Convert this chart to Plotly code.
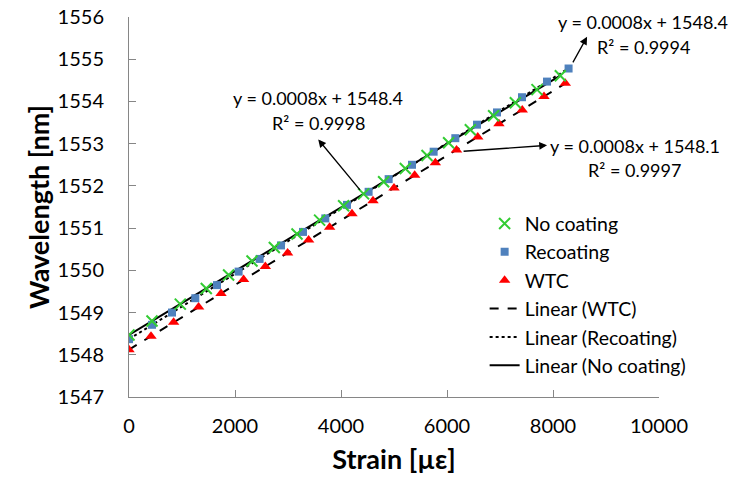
import numpy as np
import plotly.graph_objects as go

# ---- data ----
strain_nc = [0, 434, 968, 1458, 1879, 2321, 2742, 3170, 3596, 4049, 4426, 4804, 5213,
             5623, 6030, 6440, 6879, 7289, 7698, 8138]
wl_nc = [1548.47, 1548.80, 1549.20, 1549.57, 1549.89, 1550.22, 1550.54, 1550.86, 1551.19,
         1551.53, 1551.81, 1552.10, 1552.41, 1552.72, 1553.02, 1553.33, 1553.66, 1553.97,
         1554.28, 1554.61]

strain_rc = [0, 434, 811, 1251, 1660, 2068, 2464, 2868, 3283, 3704, 4113, 4521, 4899, 5340,
             5748, 6157, 6566, 6943, 7415, 7887, 8294]
wl_rc = [1548.37, 1548.71, 1549.00, 1549.34, 1549.65, 1549.97, 1550.27, 1550.59, 1550.91,
         1551.23, 1551.55, 1551.86, 1552.16, 1552.50, 1552.81, 1553.13, 1553.45, 1553.74,
         1554.10, 1554.47, 1554.78]

strain_wtc = [0, 415, 842, 1313, 1736, 2162, 2572, 2992, 3389, 3785, 4207, 4604, 5000, 5390,
              5780, 6180, 6580, 6980, 7420, 7830, 8232]
wl_wtc = [1548.12, 1548.44, 1548.77, 1549.13, 1549.45, 1549.78, 1550.09, 1550.41, 1550.72,
          1551.02, 1551.34, 1551.65, 1551.95, 1552.25, 1552.55, 1552.85, 1553.16, 1553.47,
          1553.80, 1554.12, 1554.43]

x_ticks = [0, 2000, 4000, 6000, 8000, 10000]
x_ticktext = ["0", "2000", "4000", "6000", "8000", "10000"]

eq_lines = ["y = 0.0008x + 1548.4", "y = 0.0008x + 1548.4", "y = 0.0008x + 1548.1"]
r2_lines = ["R² = 0.9998", "R² = 0.9994", "R² = 0.9997"]

FONT = "Lato, 'Open Sans', sans-serif"


def fit_line(xs, ys):
    p = np.polyfit(xs, ys, 1)
    xl = np.array([0, max(xs)])
    return xl, np.polyval(p, xl)


fig = go.Figure()

xl, yl = fit_line(strain_wtc, wl_wtc)
fig.add_trace(go.Scatter(x=xl, y=yl, mode="lines", name="Linear (WTC)", legendrank=4,
                         line=dict(color="black", width=2, dash="dash")))
xl, yl = fit_line(strain_rc, wl_rc)
fig.add_trace(go.Scatter(x=xl, y=yl, mode="lines", name="Linear (Recoating)", legendrank=5,
                         line=dict(color="black", width=2, dash="dot")))
xl, yl = fit_line(strain_nc, wl_nc)
fig.add_trace(go.Scatter(x=xl, y=yl, mode="lines", name="Linear (No coating)", legendrank=6,
                         line=dict(color="black", width=2)))

fig.add_trace(go.Scatter(x=strain_wtc, y=wl_wtc, mode="markers", name="WTC", legendrank=3,
                         marker=dict(symbol="triangle-up", size=10, color="#ff0000")))
fig.add_trace(go.Scatter(x=strain_rc, y=wl_rc, mode="markers", name="Recoating", legendrank=2,
                         marker=dict(symbol="square", size=8, color="#4f81bd")))
fig.add_trace(go.Scatter(x=strain_nc, y=wl_nc, mode="markers", name="No coating", legendrank=1,
                         marker=dict(symbol="x-thin", size=11, color="#33cc33",
                                     line=dict(color="#33cc33", width=2))))

# equation labels (line 1 and R² line placed separately)
EQF = dict(size=18, color="black", family=FONT)
label_pos = [(3570, 1554.085, 1553.493), (9700, 1555.886, 1555.294), (9547, 1552.948, 1552.379)]
for (lx, y1, y2), t1, t2 in zip(label_pos, eq_lines, r2_lines):
    fig.add_annotation(x=lx, y=y1, text=t1, showarrow=False, font=EQF)
    fig.add_annotation(x=lx, y=y2, text=t2, showarrow=False, font=EQF)

# arrows
for hx, hy, ax, ay in [(3570, 1553.10, 43, 52), (8643, 1555.53, -15, 27), (7888, 1552.96, -85, 6)]:
    fig.add_annotation(x=hx, y=hy, ax=ax, ay=ay, text="", showarrow=True,
                       arrowhead=2, arrowsize=1.2, arrowwidth=1.3, arrowcolor="black")

axis_common = dict(showgrid=False, zeroline=False, showline=True, linecolor="#868686",
                   linewidth=1, ticks="inside", ticklen=7, tickcolor="#868686",
                   automargin=False,
                   tickfont=dict(size=20, color="black", family=FONT))

fig.update_xaxes(range=[0, 10000], tickvals=x_ticks, ticktext=x_ticktext,
                 title=dict(text="<b>Strain [µε]</b>", font=dict(size=27, family=FONT, color="black"),
                            standoff=14),
                 ticklabelstandoff=11, **axis_common)
fig.update_yaxes(range=[1547, 1556], dtick=1,
                 title=dict(text="<b>Wavelength [nm]</b>", font=dict(size=27, family=FONT, color="black"),
                            standoff=0),
                 ticklabelstandoff=20, **axis_common)

fig.update_layout(
    width=730, height=480,
    margin=dict(l=129, r=71, t=17, b=83),
    paper_bgcolor="white", plot_bgcolor="white",
    font=dict(family=FONT, color="black"),
    showlegend=True,
    legend=dict(x=0.671, y=0.507, xanchor="left", yanchor="top", bgcolor="rgba(0,0,0,0)",
                font=dict(size=19.5, family=FONT, color="black"), tracegroupgap=0),
)

fig.write_html("out.html")
